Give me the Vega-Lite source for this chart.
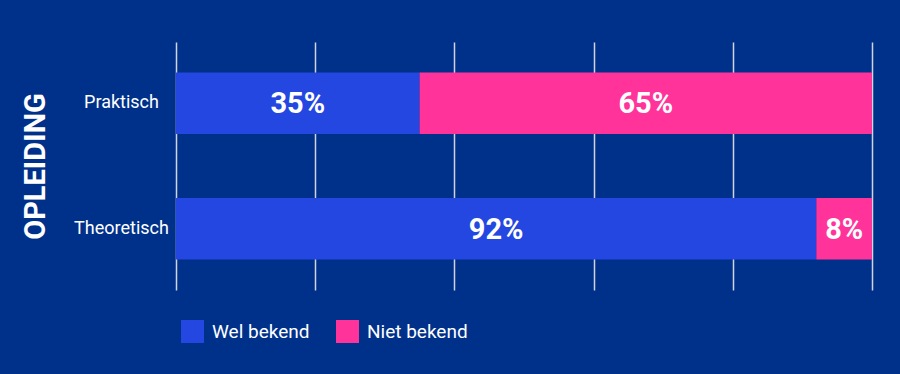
{
  "$schema": "https://vega.github.io/schema/vega-lite/v6.json",
  "width": 696,
  "height": 248,
  "autosize": {"type": "none"},
  "padding": {"left": 176, "top": 42, "right": 28, "bottom": 84},
  "background": "#00318A",
  "config": {
    "view": {"stroke": null},
    "font": "Roboto"
  },
  "data": {
    "values": [
      {"opleiding": "Praktisch", "status": "Wel bekend", "rank": 1, "pct": 35},
      {"opleiding": "Praktisch", "status": "Niet bekend", "rank": 2, "pct": 65},
      {"opleiding": "Theoretisch", "status": "Wel bekend", "rank": 1, "pct": 92},
      {"opleiding": "Theoretisch", "status": "Niet bekend", "rank": 2, "pct": 8}
    ]
  },
  "transform": [
    {"stack": "pct", "groupby": ["opleiding"], "sort": [{"field": "rank", "order": "ascending"}], "as": ["x0", "x1"]},
    {"calculate": "(datum.x0 + datum.x1) / 2", "as": "mid"},
    {"calculate": "datum.pct + '%'", "as": "label"}
  ],
  "encoding": {
    "y": {
      "field": "opleiding",
      "type": "nominal",
      "sort": ["Praktisch", "Theoretisch"],
      "scale": {"paddingInner": 0.51, "paddingOuter": 0.243},
      "axis": {
        "title": "OPLEIDING",
        "titleColor": "#FFFFFF",
        "titleFont": "Roboto",
        "titleFontWeight": "bold",
        "titleFontSize": 29,
        "titleAngle": -90,
        "titleX": -141,
        "titleY": 124,
        "titleAlign": "center",
        "titleBaseline": "middle",
        "labelColor": "#FFFFFF",
        "labelFont": "Roboto",
        "labelFontSize": 18,
        "labelAlign": "center",
        "labelPadding": 55,
        "ticks": false,
        "domain": false,
        "grid": false
      }
    }
  },
  "layer": [
    {
      "mark": {"type": "bar"},
      "encoding": {
        "x": {
          "field": "x0",
          "type": "quantitative",
          "scale": {"domain": [0, 100], "nice": false},
          "axis": {
            "title": null,
            "labels": false,
            "ticks": false,
            "domain": false,
            "grid": true,
            "values": [0, 20, 40, 60, 80, 100],
            "gridColor": "#D0D4E0",
            "gridWidth": 1.5,
            "gridOpacity": 1
          }
        },
        "x2": {"field": "x1"},
        "color": {
          "field": "status",
          "type": "nominal",
          "scale": {"domain": ["Wel bekend", "Niet bekend"], "range": ["#2347E0", "#FF3399"]},
          "legend": {
            "title": null,
            "orient": "none",
            "direction": "horizontal",
            "legendX": 5,
            "legendY": 278,
            "symbolType": "square",
            "symbolSize": 529,
            "symbolStrokeWidth": 0,
            "symbolOpacity": 1,
            "labelColor": "#FFFFFF",
            "labelFont": "Roboto",
            "labelFontSize": 19,
            "labelOffset": 8,
            "columnPadding": 26,
            "symbolOffset": 0
          }
        }
      }
    },
    {
      "mark": {
        "type": "text",
        "color": "#FFFFFF",
        "font": "Roboto",
        "fontWeight": "bold",
        "fontSize": 29,
        "align": "center",
        "baseline": "middle",
        "dy": 1
      },
      "encoding": {
        "x": {"field": "mid", "type": "quantitative"},
        "text": {"field": "label"}
      }
    }
  ]
}
